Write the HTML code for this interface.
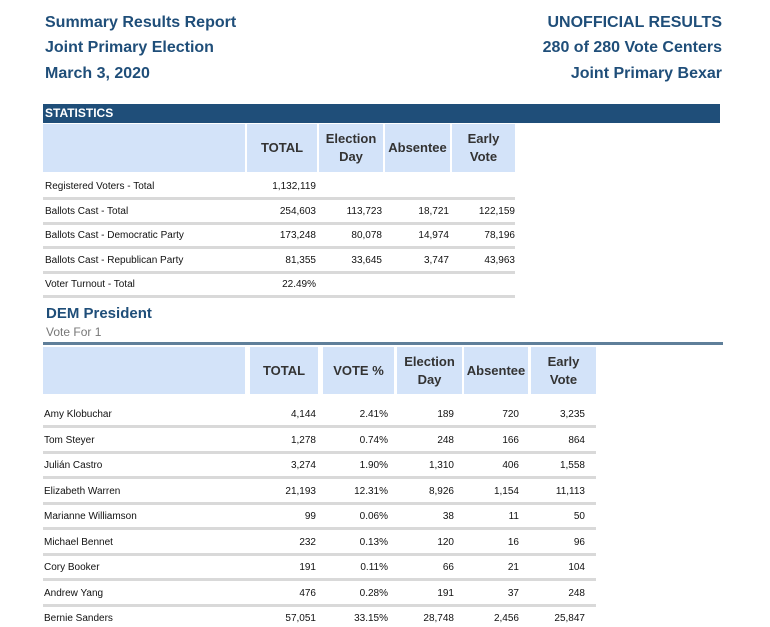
<!DOCTYPE html>
<html><head><meta charset="utf-8"><style>
body{margin:0;width:770px;height:627px;background:#fff;font-family:"Liberation Sans",Arial,sans-serif;position:relative;overflow:hidden}
.a{position:absolute;white-space:nowrap}
.h{color:#1f4e79;font-weight:bold;font-size:16px}
.hc{position:absolute;background:#d3e3f9;color:#333;font-weight:bold;font-size:13px;display:flex;align-items:center;justify-content:center;text-align:center;line-height:18px}
.t{position:absolute;font-size:10px;color:#111;white-space:nowrap}
.r{text-align:right}
.sep{position:absolute;height:3px;background:#d9d9d9}
</style></head><body>
<div class="a h" style="left:45px;top:14px">Summary Results Report</div>
<div class="a h" style="left:45px;top:39px">Joint Primary Election</div>
<div class="a h" style="left:45px;top:65px">March 3, 2020</div>
<div class="a h" style="right:48px;top:14px">UNOFFICIAL RESULTS</div>
<div class="a h" style="right:48px;top:39px">280 of 280 Vote Centers</div>
<div class="a h" style="right:48px;top:65px">Joint Primary Bexar</div>

<div class="a" style="left:43px;top:104px;width:677px;height:19px;background:#1f4e79;color:#fff;font-weight:bold;font-size:12px;line-height:19px;padding-left:2px;box-sizing:border-box">STATISTICS</div>
<div id="stats"></div>

<div class="a" style="left:46px;top:305px;color:#1f4e79;font-weight:bold;font-size:15px">DEM President</div>
<div class="a" style="left:46px;top:325px;color:#777;font-size:12px">Vote For 1</div>
<div class="a" style="left:43px;top:342px;width:680px;height:3px;background:#5f7f9a"></div>
<div id="pres"></div>
<script>
const statLabels=["Registered Voters - Total","Ballots Cast - Total","Ballots Cast - Democratic Party","Ballots Cast - Republican Party","Voter Turnout - Total"];
const statTotal=["1,132,119","254,603","173,248","81,355","22.49%"];
const statElection=["","113,723","80,078","33,645",""];
const statAbsentee=["","18,721","14,974","3,747",""];
const statEarly=["","122,159","78,196","43,963",""];
const candidates=["Amy Klobuchar","Tom Steyer","Julián Castro","Elizabeth Warren","Marianne Williamson","Michael Bennet","Cory Booker","Andrew Yang","Bernie Sanders"];
const candTotal=["4,144","1,278","3,274","21,193","99","232","191","476","57,051"];
const candPct=["2.41%","0.74%","1.90%","12.31%","0.06%","0.13%","0.11%","0.28%","33.15%"];
const candElection=["189","248","1,310","8,926","38","120","66","191","28,748"];
const candAbsentee=["720","166","406","1,154","11","16","21","37","2,456"];
const candEarly=["3,235","864","1,558","11,113","50","96","104","248","25,847"];
function el(parent,cls,style,text,name){const d=document.createElement('div');d.className=cls;d.style.cssText=style;d.innerHTML=text;


parent.appendChild(d);return d;}
const S=document.getElementById('stats');
el(S,'hc','left:43px;top:124px;width:202px;height:48px','','stats-header-label');
[["TOTAL",247,70],["Election<br>Day",319,64],["Absentee",385,65],["Early<br>Vote",452,63]].forEach((h,i)=>el(S,'hc',`left:${h[1]}px;top:124px;width:${h[2]}px;height:48px`,h[0],'stats-header-'+i));
statLabels.forEach((l,i)=>{const y=181+i*24.5;
el(S,'t',`left:45px;top:${y}px`,l,'stats-row-label');
[[statTotal,316],[statElection,382],[statAbsentee,449],[statEarly,515]].forEach(c=>el(S,'t r',`left:${c[1]-80}px;width:80px;top:${y}px`,c[0][i],'stats-value'));
el(S,'sep',`left:43px;width:472px;top:${y+16}px`,'','stats-row-separator');});
const P=document.getElementById('pres');
el(P,'hc','left:43px;top:347px;width:202px;height:47px','','pres-header-label');
[["TOTAL",250,68],["VOTE %",323,71],["Election<br>Day",397,65],["Absentee",464,64],["Early<br>Vote",531,65]].forEach((h,i)=>el(P,'hc',`left:${h[1]}px;top:347px;width:${h[2]}px;height:47px`,h[0],'pres-header-'+i));
candidates.forEach((c,i)=>{const y=409+i*25.5;
el(P,'t',`left:44px;top:${y}px`,c,'candidate-name');
[[candTotal,316],[candPct,388],[candElection,454],[candAbsentee,519],[candEarly,585]].forEach(k=>el(P,'t r',`left:${k[1]-80}px;width:80px;top:${y}px`,k[0][i],'candidate-value'));
if(i<8)el(P,'sep',`left:43px;width:553px;top:${y+16}px`,'','candidate-row-separator');});
</script>
</body></html>
